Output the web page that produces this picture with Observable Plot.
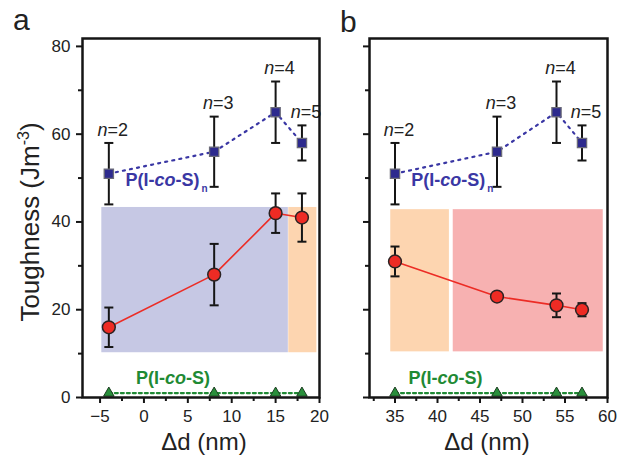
<!DOCTYPE html>
<html><head><meta charset="utf-8">
<script src="https://cdn.jsdelivr.net/npm/d3@7"></script>
<script src="https://cdn.jsdelivr.net/npm/@observablehq/plot@0.6"></script>
<style>
body{margin:0;background:#fff;}
#wrap{position:relative;width:618px;height:457px;font-family:"Liberation Sans",Arial,sans-serif;color:#222;overflow:hidden;background:#fff}
#wrap svg{position:absolute;top:0;font-family:"Liberation Sans",Arial,sans-serif;overflow:visible}
.lbl{position:absolute;white-space:nowrap;line-height:1}
</style></head><body><div id="wrap"></div>
<script>
// ---- data ----
const deltaA = [-4, 8, 15, 18];
const deltaB = [35, 47, 54, 57];
const nLabels = ["n=2", "n=3", "n=4", "n=5"];
const blockTough = [51, 56, 65, 58];
const blockErr = [7, 8, 7, 4];
const blendToughA = [16, 28, 42, 41];
const blendErrA = [4.5, 7, 4.5, 5.5];
const blendToughB = [31, 23, 21, 20];
const blendErrB = [3.4, 0.6, 2.7, 1.5];
const randomTough = [1, 1, 1, 1];
const regionsA = [
  {kind: "blue", x1: -4.8, x2: 16.45, y1: 10.2, y2: 43.3},
  {kind: "orange", x1: 16.5, x2: 19.7, y1: 10.2, y2: 43.3}
];
const regionsB = [
  {kind: "orange", x1: 34.5, x2: 41.4, y1: 10.4, y2: 42.8},
  {kind: "pink", x1: 41.85, x2: 59.5, y1: 10.4, y2: 42.8}
];
const yTicks = [0, 20, 40, 60, 80];
const yMinor = [10, 30, 50, 70];
const xTicksA = [-5, 0, 5, 10, 15, 20];
const xMinorA = [-2.5, 2.5, 7.5, 12.5, 17.5];
const xTicksB = [35, 40, 45, 50, 55, 60];
const xMinorB = [32.5, 37.5, 42.5, 47.5, 52.5, 57.5];
const blockLabel = "P(I-co-S)n";
const randomLabel = "P(I-co-S)";

// ---- styles ----
const regionColor = {blue: "#c6c8e4", orange: "#fdd5b0", pink: "#f7b1b1"};
const capSymbol = {draw(ctx) { ctx.moveTo(-4.5, 0); ctx.lineTo(4.5, 0); }};

function rows(xs, ys, es) { return xs.map((x, i) => ({x, y: ys[i], e: es ? es[i] : 0, n: nLabels[i]})); }

function panel({xs, blend, blendErr, regions, xDomain, xTicks, xMinor, width, marginLeft, showYLabels, blockLabelX, randomLabelX}) {
  const block = rows(xs, blockTough, blockErr);
  const blendRows = rows(xs, blend, blendErr);
  const random = rows(xs, randomTough);
  return Plot.plot({
    width, height: 457,
    marginLeft, marginRight: 11, marginTop: 38, marginBottom: 60,
    x: {domain: xDomain},
    y: {domain: [0, 81.8]},
    style: {fontFamily: "Liberation Sans, Arial, sans-serif", color: "#222", background: "transparent"},
    marks: [
      Plot.rect(regions, {x1: "x1", x2: "x2", y1: "y1", y2: "y2", fill: d => regionColor[d.kind]}),
      // random copolymer
      Plot.line(random, {x: "x", y: "y", stroke: "#1f8a34", strokeWidth: 2.2, strokeDasharray: "3,3"}),
      Plot.dot(random, {x: "x", y: "y", symbol: "triangle", r: 3.9, fill: "#2a8f3c", stroke: "#1b3d1f", strokeWidth: 1}),
      Plot.text([randomLabel], {x: randomLabelX, y: 4.3, text: d => d, textAnchor: "start", fill: "#1f8a34", fontWeight: "bold", fontSize: 18}),
      // block copolymer
      Plot.line(block, {x: "x", y: "y", stroke: "#3a37a4", strokeWidth: 2.2, strokeDasharray: "2,5.2"}),
      Plot.ruleX(block, {x: "x", y1: d => d.y - d.e, y2: d => d.y + d.e, stroke: "#151515", strokeWidth: 2}),
      Plot.dot(block, {x: "x", y: d => d.y + d.e, symbol: capSymbol, stroke: "#151515", strokeWidth: 2}),
      Plot.dot(block, {x: "x", y: d => d.y - d.e, symbol: capSymbol, stroke: "#151515", strokeWidth: 2}),
      Plot.dot(block, {x: "x", y: "y", symbol: "square", r: 5.2, fill: "#2d2a8e", stroke: "#6a6a78", strokeWidth: 1.3}),
      Plot.text(block, {x: "x", y: d => d.y + d.e, text: "n", dx: 4, dy: -13, fontSize: 18, fill: "#222"}),
      Plot.text([blockLabel], {x: blockLabelX, y: 49.6, text: d => d, textAnchor: "start", fill: "#3a37a4", fontWeight: "bold", fontSize: 18}),
      // blends
      Plot.line(blendRows, {x: "x", y: "y", stroke: "#ec2c25", strokeWidth: 1.6}),
      Plot.ruleX(blendRows, {x: "x", y1: d => d.y - d.e, y2: d => d.y + d.e, stroke: "#151515", strokeWidth: 2}),
      Plot.dot(blendRows, {x: "x", y: d => d.y + d.e, symbol: capSymbol, stroke: "#151515", strokeWidth: 2}),
      Plot.dot(blendRows, {x: "x", y: d => d.y - d.e, symbol: capSymbol, stroke: "#151515", strokeWidth: 2}),
      Plot.dot(blendRows, {x: "x", y: "y", r: 6.4, fill: "#ee2b24", stroke: "#2b2222", strokeWidth: 1.5}),
      // axes
      Plot.axisX({ticks: xTicks, tickSize: 6, tickPadding: 6, fontSize: 17, strokeWidth: 2, label: null, stroke: "#151515"}),
      Plot.axisX({ticks: xMinor, tickSize: 4, tickFormat: () => "", strokeWidth: 2, label: null, stroke: "#151515"}),
      Plot.axisY({ticks: yTicks, tickSize: 6, tickPadding: 6, fontSize: 17, strokeWidth: 2, label: null, stroke: "#151515",
        tickFormat: showYLabels ? (d => d) : (() => "")}),
      Plot.axisY({ticks: yMinor, tickSize: 4, tickFormat: () => "", strokeWidth: 2, label: null, stroke: "#151515"}),
      Plot.frame({stroke: "#151515", strokeWidth: 2.5})
    ]
  });
}

function richify(svg) {
  const parts = {
    "n=2": [["n", "i"], ["=2"]], "n=3": [["n", "i"], ["=3"]], "n=4": [["n", "i"], ["=4"]], "n=5": [["n", "i"], ["=5"]],
    "P(I-co-S)n": [["P(I-"], ["co", "i"], ["-S)"], ["n", "sub"]],
    "P(I-co-S)": [["P(I-"], ["co", "i"], ["-S)"]]
  };
  svg.querySelectorAll("text").forEach(t => {
    const p = parts[t.textContent];
    if (!p) return;
    t.textContent = "";
    for (const [s, kind] of p) {
      const ts = document.createElementNS("http://www.w3.org/2000/svg", "tspan");
      ts.textContent = s;
      if (kind === "i") ts.setAttribute("font-style", "italic");
      if (kind === "sub") { ts.setAttribute("font-size", "10"); ts.setAttribute("dy", "6"); ts.setAttribute("dx", "2"); }
      t.appendChild(ts);
    }
  });
}

const wrap = document.getElementById("wrap");
const a = panel({xs: deltaA, blend: blendToughA, blendErr: blendErrA, regions: regionsA, xDomain: [-7, 20],
  xTicks: xTicksA, xMinor: xMinorA, width: 330, marginLeft: 82, showYLabels: true, blockLabelX: -2.1, randomLabelX: -0.9});
const b = panel({xs: deltaB, blend: blendToughB, blendErr: blendErrB, regions: regionsB, xDomain: [32, 60],
  xTicks: xTicksB, xMinor: xMinorB, width: 288, marginLeft: 39, showYLabels: false, blockLabelX: 36.9, randomLabelX: 36.6});
a.style.left = "0px"; b.style.left = "330px";
richify(a); richify(b);
wrap.appendChild(a); wrap.appendChild(b);

function label(html, css) {
  const d = document.createElement("div");
  d.className = "lbl"; d.innerHTML = html; Object.assign(d.style, css); wrap.appendChild(d);
  return d;
}
label("a", {left: "13px", top: "5px", fontSize: "30px"});
label("b", {left: "340px", top: "7px", fontSize: "30px"});
label("&Delta;d (nm)", {left: "204px", top: "430px", fontSize: "24px", transform: "translateX(-50%)"});
label("&Delta;d (nm)", {left: "487px", top: "430px", fontSize: "24px", transform: "translateX(-50%)"});
label("Toughness (Jm<sup style='font-size:16px;vertical-align:10px'>-3</sup>)",
  {left: "29px", top: "222px", fontSize: "26px", transform: "translate(-50%,-50%) rotate(-90deg)"});
</script></body></html>
